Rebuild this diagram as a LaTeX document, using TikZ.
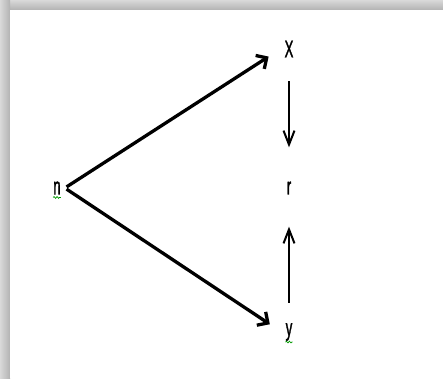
\documentclass[tikz,border=0pt]{standalone}
\usepackage{fontspec}
\newfontfamily\narrowsans[FakeStretch=0.55,FakeBold=1.2]{Liberation Sans}
\usetikzlibrary{arrows.meta,positioning,decorations.pathmorphing}
\tikzset{
  letter/.style={font=\narrowsans\fontsize{24}{24}\selectfont, inner sep=4pt},
  longedge/.style={line width=3.3pt, -{Straight Barb[length=8pt,width=16pt]}},
  shortedge/.style={line width=2pt, -{Straight Barb[length=14pt,width=11pt]}},
  squiggle/.style={green!60!black, line width=0.7pt, decorate,
    decoration={snake, amplitude=0.9pt, segment length=3pt}}
}
\begin{document}
\begin{tikzpicture}[x=1pt,y=1pt,node distance=140pt,on grid]
   \useasboundingbox (0,0) rectangle (443,378);
   % frame shadow
   \shade[top color=gray!30, bottom color=gray!60] (0,368) rectangle (443,378);
   \shade[left color=gray!30, right color=gray!60] (0,0) rectangle (10,378);
   \fill[white] (10,0) rectangle (443,368);
   \node[letter] (n) at (57,190) {n};
   \node[letter] (r) [right=232pt of n] {r};
   \node[letter] (x) [above=139pt of r] {X};
   \node[letter] (y) [below=144pt of r] {y};
    \path
    (n.east) edge[longedge, shorten >=14pt, shorten <=2pt] (x.west)
    (n.east) edge[longedge, shorten >=14pt, shorten <=2pt] (y.west)
    (x) edge[shortedge, shorten <=20pt, shorten >=30pt] (r)
    (y) edge[shortedge, shorten <=16pt, shorten >=28pt] (r);
   \draw[squiggle] ([xshift=4pt,yshift=-3pt]n.base west) -- ([xshift=-4pt,yshift=-3pt]n.base east);
   \draw[squiggle] ([xshift=4pt,yshift=3pt]y.south west) -- ([xshift=-4pt,yshift=3pt]y.south east);
\end{tikzpicture}
\end{document}
